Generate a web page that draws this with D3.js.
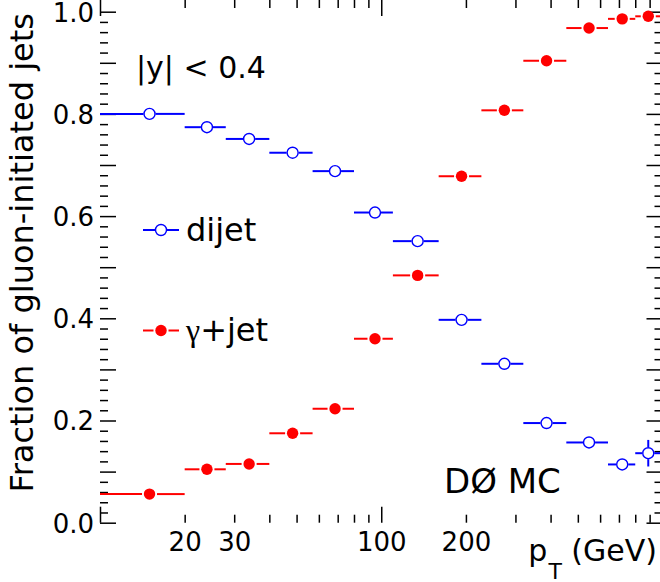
<!DOCTYPE html>
<html>
<head>
<meta charset="utf-8">
<script src="https://cdn.jsdelivr.net/npm/d3@7"></script>
<style>
  body { margin: 0; background: #fff; }
  svg { display: block; font-family: "DejaVu Sans", sans-serif; }
</style>
</head>
<body>
<svg id="chart" width="660" height="582"></svg>
<script>
// bin edges in pT (GeV), shared by both samples
var binLow  = [10, 20, 28, 40, 57, 80, 110, 160, 227, 320, 455, 640, 800];
var binHigh = [20, 28, 40, 57, 80, 110, 160, 227, 320, 455, 640, 800, 1000];
// mean pT of each bin (where the marker sits)
var binCenter = [15.0, 24.0, 33.9, 48.4, 68.5, 95.0, 134.7, 193, 274, 387, 548, 719, 890];

// fraction of gluon-initiated jets
var dijetFrac  = [0.800, 0.774, 0.751, 0.724, 0.688, 0.607, 0.551, 0.397, 0.311, 0.195, 0.157, 0.114, 0.136];
var dijetErr   = [0, 0, 0, 0, 0, 0, 0, 0, 0, 0, 0, 0, 0.026];
var gammaFrac  = [0.056, 0.1045, 0.115, 0.175, 0.223, 0.360, 0.484, 0.678, 0.807, 0.904, 0.968, 0.986, 0.991];
var gammaErr   = [0, 0, 0, 0, 0, 0, 0, 0, 0, 0, 0, 0, 0];

// axis ticks and labels
var xMinorTicks = [20, 30, 40, 50, 60, 70, 80, 90, 200, 300, 400, 500, 600, 700, 800, 900];
var xMajorTicks = [10, 100, 1000];
var xLabels = [20, 30, 100, 200];
var yLabels = [0, 0.2, 0.4, 0.6, 0.8, 1.0];

var svg = d3.select("#chart");

var x = d3.scaleLog().domain([10, 1000]).range([100, 662.5]);
var y = d3.scaleLinear().domain([0, 1]).range([522.7, 11.7]);

var left = x.range()[0], right = x.range()[1];
var bottom = y.range()[0], top = y.range()[1];

var yTicks = d3.range(0, 1.0001, 0.02);
function yMajor(d) { return Math.round(d * 100) % 10 === 0; }
function xMajor(d) { return xMajorTicks.indexOf(d) >= 0; }

//bottom axis: ticks point inward, labels only on a few values
var xAll = xMinorTicks.concat(xMajorTicks).sort((a, b) => a - b);
var gx = svg.append("g").attr("transform", `translate(0,${bottom})`)
  .call(d3.axisBottom(x).tickValues(xAll).tickSizeOuter(0)
    .tickFormat(d => xLabels.indexOf(d) >= 0 ? d : ""));
gx.select(".domain").remove();
gx.selectAll(".tick line").attr("y2", d => xMajor(d) ? -16 : -8)
  .attr("stroke", "#000").attr("stroke-width", 1.5);
gx.selectAll(".tick text").attr("y", 10).attr("dy", "0.71em")
  .attr("font-size", 26).attr("font-family", "DejaVu Sans").attr("fill", "#000");

//top axis mirrors bottom ticks
var gxt = svg.append("g").attr("transform", `translate(0,${top})`)
  .call(d3.axisTop(x).tickValues(xAll).tickSizeOuter(0).tickFormat(""));
gxt.select(".domain").remove();
gxt.selectAll(".tick line").attr("y2", d => xMajor(d) ? 16 : 8)
  .attr("stroke", "#000").attr("stroke-width", 1.5);

//left axis
var gy = svg.append("g").attr("transform", `translate(${left},0)`)
  .call(d3.axisLeft(y).tickValues(yTicks).tickSizeOuter(0)
    .tickFormat(d => yLabels.some(v => Math.abs(v - d) < 1e-6) ? d3.format(".1f")(d) : ""));
gy.select(".domain").remove();
gy.selectAll(".tick line").attr("x2", d => yMajor(d) ? 16 : 8)
  .attr("stroke", "#000").attr("stroke-width", 1.5);
gy.selectAll(".tick text").attr("x", -6).attr("dy", "0.36em")
  .attr("font-size", 26).attr("font-family", "DejaVu Sans").attr("fill", "#000");

//right axis
var gyr = svg.append("g").attr("transform", `translate(${right},0)`)
  .call(d3.axisRight(y).tickValues(yTicks).tickSizeOuter(0).tickFormat(""));
gyr.select(".domain").remove();
gyr.selectAll(".tick line").attr("x2", d => yMajor(d) ? -16 : -8)
  .attr("stroke", "#000").attr("stroke-width", 1.5);

// frame
svg.append("rect")
  .attr("x", left).attr("y", top)
  .attr("width", right - left).attr("height", bottom - top)
  .attr("fill", "none").attr("stroke", "#000").attr("stroke-width", 1.6);

// build rows for both samples
var series = [
  { name: "dijet", color: "#0000ff", open: true, r: 5.5, gap: 0.5, vals: dijetFrac, errs: dijetErr },
  { name: "gamma", color: "#ff0000", open: false, r: 5.7, gap: 1.8, vals: gammaFrac, errs: gammaErr }
];

series.forEach(function (s) {
  var rows = s.vals.map((v, i) => ({ lo: binLow[i], hi: binHigh[i], c: binCenter[i], v: v, e: s.errs[i] }));
  var g = svg.append("g");
  var cut = s.r + s.gap;

  // horizontal bars show the bin width, stopping short of the marker
  g.selectAll("line.hl").data(rows).enter().append("line")
    .attr("x1", d => x(d.lo)).attr("x2", d => x(d.c) - cut)
    .attr("y1", d => y(d.v)).attr("y2", d => y(d.v))
    .attr("stroke", s.color).attr("stroke-width", 2);
  g.selectAll("line.hr").data(rows).enter().append("line")
    .attr("x1", d => x(d.c) + cut).attr("x2", d => x(d.hi))
    .attr("y1", d => y(d.v)).attr("y2", d => y(d.v))
    .attr("stroke", s.color).attr("stroke-width", 2);

  // vertical stat errors
  var withErr = rows.filter(d => d.e > 0);
  g.selectAll("line.vu").data(withErr).enter().append("line")
    .attr("x1", d => x(d.c)).attr("x2", d => x(d.c))
    .attr("y1", d => y(d.v + d.e)).attr("y2", d => y(d.v) - cut)
    .attr("stroke", s.color).attr("stroke-width", 2);
  g.selectAll("line.vd").data(withErr).enter().append("line")
    .attr("x1", d => x(d.c)).attr("x2", d => x(d.c))
    .attr("y1", d => y(d.v) + cut).attr("y2", d => y(d.v - d.e))
    .attr("stroke", s.color).attr("stroke-width", 2);

  g.selectAll("circle").data(rows).enter().append("circle")
    .attr("cx", d => x(d.c)).attr("cy", d => y(d.v))
    .attr("r", s.r)
    .attr("fill", s.open ? "#fff" : s.color)
    .attr("stroke", s.color).attr("stroke-width", s.open ? 1.4 : 0);
});

// legend
function legendEntry(cx, cy, s, label, serifFirst) {
  var cut = s.r + s.gap;
  svg.append("line").attr("x1", cx - 18).attr("x2", cx - cut)
    .attr("y1", cy).attr("y2", cy).attr("stroke", s.color).attr("stroke-width", 2);
  svg.append("line").attr("x1", cx + cut).attr("x2", cx + 18)
    .attr("y1", cy).attr("y2", cy).attr("stroke", s.color).attr("stroke-width", 2);
  svg.append("circle").attr("cx", cx).attr("cy", cy).attr("r", s.r)
    .attr("fill", s.open ? "#fff" : s.color).attr("stroke", s.color).attr("stroke-width", s.open ? 1.4 : 0);
  var t = svg.append("text").attr("x", cx + 25).attr("y", cy + 10.5)
    .attr("font-size", 32).attr("fill", "#000");
  if (serifFirst) {
    t.append("tspan").attr("font-family", "Liberation Serif").text(label[0]);
    t.append("tspan").text(label.slice(1));
  } else {
    t.text(label);
  }
}
legendEntry(161, 230, series[0], "dijet", false);
legendEntry(161, 330.5, series[1], "\u03b3+jet", true);

// annotations
svg.append("text").attr("x", 136).attr("y", 77.7)
  .attr("font-size", 30).attr("fill", "#000").text("|y| < 0.4");
svg.append("text").attr("x", 444).attr("y", 493.3)
  .attr("font-size", 34).attr("fill", "#000").text("D\u00d8 MC");

// axis titles
svg.append("text")
  .attr("transform", "translate(33,13) rotate(-90)")
  .attr("text-anchor", "end").attr("font-size", 32).attr("fill", "#000")
  .text("Fraction of gluon-initiated jets");

var xt = svg.append("text").attr("x", 657).attr("y", 561)
  .attr("text-anchor", "end").attr("font-size", 30).attr("fill", "#000");
xt.append("tspan").text("p");
xt.append("tspan").attr("font-size", 22).attr("dx", 1).attr("dy", 18).text("T");
xt.append("tspan").attr("dy", -18).text(" (GeV)");
</script>
</body>
</html>
